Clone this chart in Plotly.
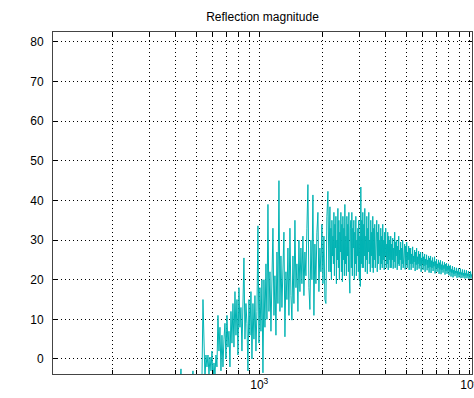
import numpy as np
import plotly.graph_objects as go

# Frequency segments (Hz): lower band sampled more coarsely than the upper band
SEG_A_START, SEG_A_END = 397.0, 2147.0
SEG_B_START, SEG_B_END = 2171.0, 10530.0

# Reflection magnitude values (low -> high frequency)
mag_a = [
    -12, -9, -14, -8, -10, -7, -2.5, -9, -13, -8,
    -11, -9, -15, -10, -7, -12, -9, -6, -3, -10,
    -12, -8, -11, -6, -9, -14, -7, -5, 15, 7,
    -5, 1, -2, 1, -4, 0.5, -3, 2, -6, -1, -4, 1, -2,
    11, 2, 8, -3, 6,
    -2, 5, 9, 0, 11, 3, 7, -2, 12, 4,
    14, 3, 17, 6, 15, 1, 18, 8, 13, 2, 16, 25.5, 5, 14, 9,
    -3, 15, 6, 17, 0, 14, 5, 16, 2, 12, 33.6, 4, 18, 7, 20,
    -3.5,
    20, 8, 24, 10, 39, 12, 22, 7, 25, 33, 11, 21, 6, 27, 14, 45, 12,
    26, 13, 24, 32, 5.6, 22, 15, 28, 11, 33, 16, 9.8, 26, 14, 35, 18, 24, 12, 30, 17,
    28, 19, 31, 16, 27, 21, 33, 44, 18, 12.5, 30, 20, 41.4, 11, 29, 19, 32, 37, 17, 28, 22, 34,
    19, 31, 15, 14, 36, 42.3, 22,
]
mag_b = [
    38.4, 22, 33, 20, 35, 26, 31, 24, 37, 21,
    34, 28, 36, 19, 30, 25, 38, 23, 35, 20,
    32, 27, 37, 22, 34, 19.5, 36, 25, 33, 21,
    39, 24, 31, 21, 36, 26, 34, 22, 37, 20,
    16.6, 33, 35, 23, 37, 21, 33, 28, 35, 20,
    32, 24, 36, 21, 30, 26, 33, 22, 35, 20,
    31, 18.3, 43.4, 24, 35, 23,
    37, 23, 34, 26, 38, 22, 31, 25, 36, 21.5, 33, 27, 37, 24, 30, 22, 35, 26, 32, 23,
    36, 21.8, 33, 25, 34, 23, 31, 27, 35, 22, 32, 24, 34, 26, 30, 22.5, 33, 24, 31, 23,
    34, 25, 30, 22.5, 32, 26, 33, 23, 29, 24, 32, 22.5, 31, 25, 30, 23,
    31, 23, 29, 25, 30.5, 22.8, 28, 24.5, 32, 23, 29.5, 26, 30, 22.5, 28.5, 24, 31, 23.5, 27.5, 25,
    29.5, 22.5, 28, 24, 30, 23, 27, 25.5, 29, 22.6, 28.5, 24, 29.5, 23, 27, 25, 28.5, 22.5, 28, 24,
    28, 22.5, 26.5, 24, 28.3, 23, 26, 24.5, 27.5, 22.2, 27, 23.8, 28, 22.5, 25.8, 24, 27.2, 22.8, 26.5, 23.5,
    27, 22, 25.5, 24, 26.8, 22.5, 25.8, 23.5, 26.5, 22, 25.2, 23.8, 26.3, 22.4, 25, 23, 26, 21.8, 25.5, 23.2,
    26, 21.7, 24.8, 23, 25.6, 22.2, 24.5, 23.4, 25.8, 21.6, 24.6, 22.8, 25.2, 22, 24, 23, 25, 21.5, 24.3, 22.6,
    24.9, 21.4, 23.8, 22.5, 24.6, 21.8, 23.6, 22.8, 24.4, 21.3, 23.9, 22.2, 24.2, 21.5, 23.4, 22.4, 24, 21.1, 23.5, 22,
    23.6, 20.8, 22.6, 21.8, 23.4, 20.6, 22.4, 21.5, 23.2, 20.9, 22.2, 21.7, 23, 20.5, 22.1, 21.3, 22.9, 20.6, 21.9, 21.4,
    22.8, 20.4, 21.8, 21.2, 22.6, 20.5, 21.7, 21, 22.5, 20.3, 21.6, 21.1, 22.4, 20.4, 21.5, 20.9, 22.2, 20.2, 21.4, 21,
    22.1, 20.3, 21.3, 20.8, 22, 20.1, 21.2, 20.6,
]
freq = np.concatenate([
    np.geomspace(SEG_A_START, SEG_A_END, len(mag_a)),
    np.geomspace(SEG_B_START, SEG_B_END, len(mag_b)),
])
magnitude = mag_a + mag_b

TITLE = "Reflection magnitude"
Y_TICKS = [0, 10, 20, 30, 40, 50, 60, 70, 80]
X_GRID = [200, 300, 400, 500, 600, 700, 800, 900, 1000,
          2000, 3000, 4000, 5000, 6000, 7000, 8000, 9000, 10000]
X_LABELS = {1000: "10<sup>3</sup>", 10000: "10<sup>4</sup>"}

fig = go.Figure()
fig.add_trace(go.Scatter(
    x=freq, y=magnitude, mode="lines",
    line=dict(color="#00b3b3", width=1),
    showlegend=False, hoverinfo="skip",
))

font = dict(family="Liberation Sans, Arial, sans-serif", size=12, color="#000")
fig.update_layout(
    width=474, height=398,
    margin=dict(l=53, r=2, t=32, b=24),
    paper_bgcolor="white", plot_bgcolor="white",
    font=font,
    title=dict(text=TITLE, x=0.5, xref="paper", xanchor="center",
               y=1 - 17 / 398, yref="container", yanchor="middle",
               font=dict(size=12)),
)
fig.update_xaxes(
    type="log", automargin=False,
    range=[np.log10(104.2), np.log10(10310)],
    tickmode="array",
    tickvals=X_GRID,
    ticktext=[X_LABELS.get(v, "") for v in X_GRID],
    ticks="inside", ticklen=4, tickcolor="#000",
    showline=True, linecolor="#444", linewidth=1, mirror="ticks",
    showgrid=True, gridcolor="#000", gridwidth=1, griddash="1px,3px",
    zeroline=False, ticklabeloverflow="allow",
    tickfont=font,
)
fig.update_yaxes(
    automargin=False,
    range=[-3.79, 82.52],
    tickmode="array", tickvals=Y_TICKS,
    ticks="inside", ticklen=4, tickcolor="#000",
    showline=True, linecolor="#444", linewidth=1, mirror="ticks",
    showgrid=True, gridcolor="#000", gridwidth=1, griddash="1px,3px",
    zeroline=False, ticklabelstandoff=6,
    tickfont=font,
)

fig.write_html("out.html")
